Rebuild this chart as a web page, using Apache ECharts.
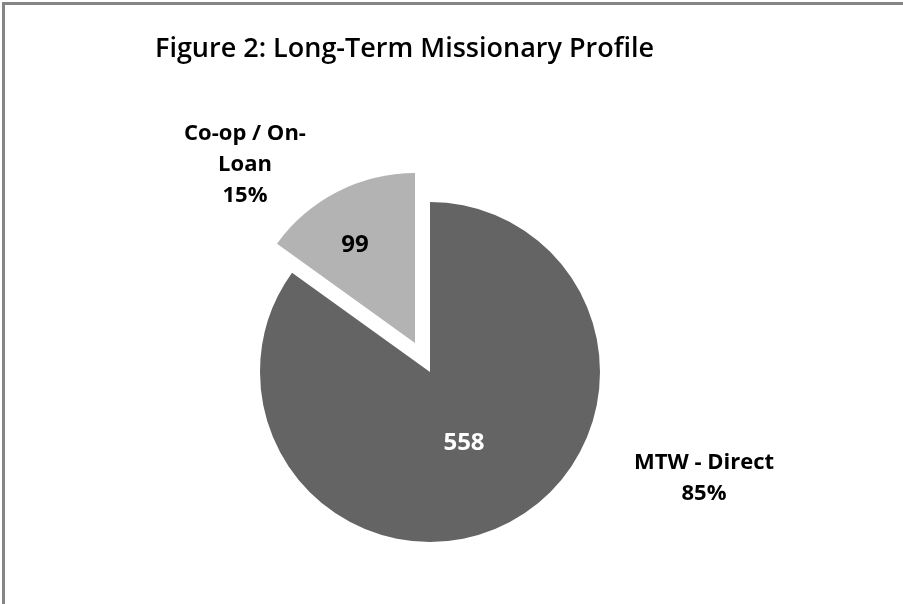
<!DOCTYPE html>
<html>
<head>
<meta charset="utf-8">
<title>Figure 2</title>
<script src="https://cdn.jsdelivr.net/npm/echarts@6/dist/echarts.min.js"></script>
<style>
    html, body { margin: 0; padding: 0; background: #fff; }
    #frame {
        position: absolute; left: 2px; top: 2px; width: 901px; height: 602px;
        border-left: 3px solid #858585; border-top: 3px solid #858585;
        box-sizing: border-box;
    }
    #chart { position: absolute; left: 0; top: 0; width: 903px; height: 604px; }
</style>
</head>
<body>
<div id="frame"></div>
<div id="chart"></div>
<script>
// data
var titleText = 'Figure 2: Long-Term Missionary Profile';
var categories = ['MTW - Direct', 'Co-op / On-Loan'];
var nameLabels = ['MTW - Direct', 'Co-op / On-\nLoan'];
var values = [558, 99];
var colors = ['#646464', '#b3b3b3'];

var total = values[0] + values[1];
var font = 'Open Sans';

var myChart = echarts.init(document.getElementById('chart'));

// pie centres: the small slice is pulled out of the pie
var centers = [[430, 372], [415, 343]];
// spots for the labels
var valuePos = [[464, 443], [355, 245]];
var valueColor = ['#fff', '#000'];
var namePos = [[704, 478], [245, 165]];

// one pie series per slice, the other slice kept transparent
function sliceSeries(k) {
    return {
        type: 'pie',
        center: centers[k],
        radius: 170,
        startAngle: 90,
        clockwise: true,
        emphasis: { disabled: true },
        data: categories.map(function (c, i) {
            return {
                name: c,
                value: values[i],
                itemStyle: { color: i === k ? colors[i] : 'rgba(0,0,0,0)' },
                label: { show: i === k }
            };
        }),
        label: {
            position: 'inside',
            fontFamily: font,
            fontSize: 24,
            fontWeight: 'bold',
            color: valueColor[k],
            formatter: function (p) { return p.value; }
        },
        labelLine: { show: false },
        labelLayout: function () {
            return { x: valuePos[k][0], y: valuePos[k][1], align: 'center', verticalAlign: 'middle' };
        }
    };
}

myChart.setOption({
    animation: false,
    title: {
        text: titleText,
        left: 150,
        top: 31,
        textStyle: { fontFamily: font, fontSize: 27, fontWeight: 600, color: '#000' }
    },
    series: [sliceSeries(0), sliceSeries(1), {
        // name / percent labels outside the pie
        type: 'pie',
        center: centers[0],
        radius: 170,
        startAngle: 90,
        clockwise: true,
        silent: true,
        data: categories.map(function (c, i) {
            return { name: c, value: values[i], itemStyle: { color: 'rgba(0,0,0,0)' } };
        }),
        label: {
            fontFamily: font,
            fontSize: 22,
            fontWeight: 'bold',
            lineHeight: 31,
            align: 'center',
            color: '#000',
            formatter: function (p) {
                return nameLabels[p.dataIndex] + '\n' + Math.round(values[p.dataIndex] / total * 100) + '%';
            }
        },
        labelLine: { show: false },
        labelLayout: function (p) {
            return { x: namePos[p.dataIndex][0], y: namePos[p.dataIndex][1], align: 'center', verticalAlign: 'middle' };
        }
    }]
});
</script>
</body>
</html>
